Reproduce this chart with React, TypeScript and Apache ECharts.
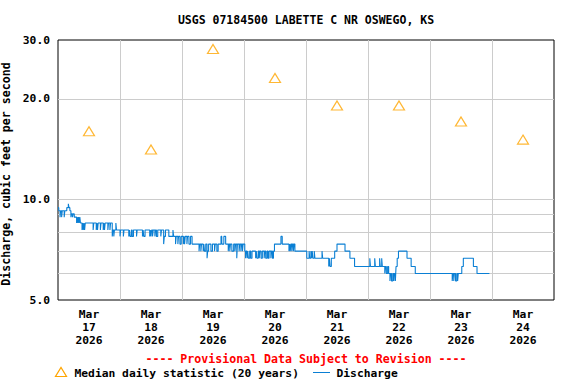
import React, { useEffect, useRef } from "react";
import * as echarts from "echarts";

const titleText = "USGS 07184500 LABETTE C NR OSWEGO, KS";
const yAxisTitle = "Discharge, cubic feet per second";
const provisionalText = "---- Provisional Data Subject to Revision ----";
const medianLegend = "Median daily statistic (20 years)";
const dischargeLegend = "Discharge";

// x labels at noon of each day (hours since Mar 17 00:00)
const dayLabels = [
  "Mar\n17\n2026",
  "Mar\n18\n2026",
  "Mar\n19\n2026",
  "Mar\n20\n2026",
  "Mar\n21\n2026",
  "Mar\n22\n2026",
  "Mar\n23\n2026",
  "Mar\n24\n2026",
];
const yLabelValues = [5, 10, 20, 30];
const yGridValues = [6, 7, 8, 9, 10, 20];

// median daily statistic, one per day at noon
const medianHours = [12, 36, 60, 84, 108, 132, 156, 180];
const medianValues = [16.0, 14.1, 28.2, 23.1, 19.1, 19.1, 17.1, 15.1];

// discharge change points: [hours since Mar 17 00:00, cfs]
const discharge: [number, number][] = [
  [0, 9.45], [0.3, 9.25],
  [0.8, 8.85], [1.0, 9.25], [1.4, 8.85], [1.65, 9.25],
  [2.4, 8.85], [2.65, 9.25], [3.4, 9.45],
  [4.0, 9.7], [4.25, 9.45], [4.6, 9.25],
  [5.0, 8.85], [5.25, 9.05], [5.6, 8.85], [5.85, 9.05], [6.3, 8.85],
  [7.2, 8.5], [7.45, 8.85], [7.7, 8.5], [7.95, 8.85], [8.2, 8.5], [8.45, 8.85], [8.7, 8.5],
  [9.3, 8.1], [9.55, 8.5], [9.8, 8.1], [10.05, 8.5], [10.3, 8.1], [10.55, 8.5],
  [13.6, 8.1], [13.85, 8.5],
  [14.8, 8.1], [15.05, 8.5], [15.3, 8.1], [15.55, 8.5],
  [16.4, 8.1], [16.65, 8.5],
  [17.5, 8.1], [17.75, 8.5], [18.0, 8.1], [18.25, 8.5],
  [19.3, 8.1], [19.55, 8.5],
  [20.1, 8.1], [20.35, 8.5],
  [21.0, 7.75], [21.25, 8.1], [21.6, 7.75], [21.85, 8.1],
  [22.4, 8.5], [22.65, 8.1],
  [24.0, 7.75], [24.25, 8.1],
  [25.3, 7.75], [25.55, 8.1],
  [27.4, 7.75], [27.65, 8.1], [27.9, 7.75], [28.4, 8.1], [28.7, 7.75], [29.2, 8.1],
  [30.4, 7.75], [30.65, 8.1],
  [32.7, 7.75], [32.95, 8.1], [33.2, 7.75], [33.7, 8.1],
  [35.5, 7.75], [35.75, 8.1], [36.0, 7.75], [36.25, 8.1], [36.6, 7.75], [36.85, 8.1],
  [37.5, 7.75], [37.75, 8.1], [38.1, 7.75], [38.6, 8.1],
  [39.8, 7.75], [40.05, 8.1],
  [40.9, 7.35], [41.15, 7.75], [41.6, 8.1],
  [42.9, 7.75],
  [44.5, 8.1], [44.75, 7.75],
  [45.5, 7.35], [45.75, 7.75],
  [46.4, 7.35], [46.65, 7.75],
  [47.2, 7.35], [47.7, 7.75],
  [48.5, 7.35], [48.75, 7.75], [49.0, 7.35], [49.25, 7.75],
  [49.9, 7.35], [50.15, 7.75],
  [50.7, 7.35], [51.3, 7.75],
  [51.9, 7.35],
  [54.6, 7.0], [54.85, 7.35],
  [55.3, 7.0], [55.55, 7.35],
  [56.2, 7.0], [56.45, 7.35], [56.7, 7.0], [57.2, 7.35],
  [57.7, 6.67], [57.95, 7.0], [58.3, 7.35],
  [59.2, 7.0], [59.8, 7.35],
  [60.6, 7.0], [60.85, 7.35],
  [61.5, 7.0], [62.0, 7.35],
  [63.1, 7.75], [63.4, 7.35],
  [64.2, 7.75], [64.9, 7.35],
  [65.9, 7.0], [66.15, 7.35], [66.5, 7.0], [66.75, 7.35], [67.3, 7.0], [68.0, 7.35],
  [68.5, 7.0], [68.75, 7.35],
  [69.2, 6.67], [69.45, 7.35],
  [70.1, 7.0], [70.35, 7.35],
  [70.8, 7.0], [71.05, 7.35], [71.4, 7.0], [71.65, 7.35],
  [72.3, 7.0],
  [72.6, 6.67], [72.85, 7.0], [73.2, 6.67], [73.45, 7.0], [73.7, 6.67], [74.2, 7.0], [74.6, 6.67], [75.1, 7.0],
  [76.5, 6.67], [76.75, 7.0], [77.0, 6.67], [77.5, 7.0], [77.9, 6.67], [78.15, 7.0], [78.6, 6.67], [79.1, 7.0],
  [79.8, 6.67], [80.05, 7.0], [80.4, 6.67], [80.9, 7.0], [81.3, 6.67], [81.7, 7.0],
  [82.4, 6.67], [82.65, 7.0], [83.0, 6.67], [83.4, 7.0],
  [83.8, 7.35],
  [86.3, 7.75], [86.8, 7.35],
  [89.4, 7.0], [89.65, 7.35], [89.9, 7.0], [90.15, 7.35], [90.5, 7.0], [90.75, 7.35], [91.1, 7.0], [91.35, 7.35],
  [91.7, 7.0],
  [96.3, 6.67],
  [97.2, 7.0], [97.45, 6.67],
  [97.9, 7.0], [98.15, 6.67], [98.4, 7.0], [98.65, 6.67],
  [99.2, 7.0], [99.45, 6.67],
  [102.2, 7.0], [102.45, 6.67],
  [104.8, 6.3], [105.05, 6.67], [105.3, 6.3], [105.8, 6.67],
  [107.1, 7.0],
  [108.0, 7.35],
  [111.1, 7.0],
  [113.0, 6.67],
  [114.8, 6.3],
  [120.7, 6.67], [120.95, 6.3],
  [122.6, 6.67], [122.85, 6.3],
  [124.5, 6.67], [124.75, 6.3],
  [125.3, 6.67], [125.55, 6.3],
  [126.5, 6.0], [126.75, 6.3], [127.1, 6.0], [127.6, 6.3],
  [128.0, 6.0], [128.5, 5.7], [128.75, 6.0], [129.1, 5.7], [129.6, 6.0], [130.0, 5.7], [130.25, 6.0], [130.6, 5.7],
  [130.85, 6.3],
  [131.3, 6.67], [131.8, 7.0],
  [135.1, 6.67],
  [136.7, 6.3],
  [138.3, 6.0],
  [152.6, 5.7], [152.85, 6.0], [153.2, 5.7], [153.45, 6.0], [153.9, 5.7], [154.4, 6.0], [154.7, 5.7], [154.95, 6.0],
  [156.3, 6.3], [156.9, 6.67],
  [160.8, 6.3],
  [162.2, 6.0],
  [167.0, 6.0],
];

const FONT = "DejaVu Sans Mono";
const FS = 11.3;
const BLUE = "#0a7fd4";
const ORANGE = "#ffa500";

export default function App() {
  const ref = useRef<HTMLDivElement>(null);

  useEffect(() => {
    if (!ref.current) return;
    const chart = echarts.init(ref.current, null, { renderer: "svg" });
    const gridColor = "#cccccc";
    const option: any = {
      animation: false,
      backgroundColor: "#ffffff",
      grid: {
        left: 58,
        right: 22,
        top: 40,
        bottom: 84,
        show: true,
        borderColor: "#000000",
        borderWidth: 1,
        backgroundColor: "transparent",
        containLabel: false,
        outerBoundsMode: "none",
      },
      xAxis: [
        {
          type: "value",
          min: 0,
          max: 192,
          interval: 24,
          position: "bottom",
          axisLine: { show: false },
          axisTick: { show: false },
          axisLabel: { show: false },
          splitLine: {
            show: true,
            showMinLine: false,
            showMaxLine: false,
            lineStyle: { color: gridColor, width: 1 },
          },
        },
        {
          type: "value",
          min: 0,
          max: 192,
          interval: 12,
          position: "bottom",
          axisLine: { show: false },
          axisTick: { show: false },
          splitLine: { show: false },
          axisLabel: {
            show: true,
            margin: 8,
            fontFamily: FONT,
            fontWeight: "bold",
            fontSize: FS,
            color: "#000",
            lineHeight: 13,
            formatter: (v: number) => {
              const k = (v - 12) / 24;
              if (Number.isInteger(k) && k >= 0 && k < dayLabels.length) return dayLabels[k];
              return "";
            },
          },
        },
      ],
      yAxis: {
        type: "log",
        logBase: 10,
        min: 5,
        max: 30,
        name: yAxisTitle,
        nameLocation: "middle",
        nameGap: 41,
        nameTextStyle: {
          fontFamily: FONT,
          fontWeight: "bold",
          fontSize: 11.6,
          color: "#000",
          padding: [0, 8, 0, 0],
        },
        axisLine: { show: false },
        axisTick: { show: false, customValues: yGridValues },
        axisLabel: {
          show: true,
          customValues: yLabelValues,
          margin: 8,
          fontFamily: FONT,
          fontWeight: "bold",
          fontSize: FS,
          color: "#000",
          formatter: (v: number) => Number(v).toFixed(1),
        },
        splitLine: {
          show: true,
          lineStyle: { color: gridColor, width: 1 },
        },
      },
      series: [
        {
          name: dischargeLegend,
          type: "line",
          xAxisIndex: 0,
          yAxisIndex: 0,
          step: "end",
          showSymbol: false,
          symbol: "none",
          lineStyle: { color: BLUE, width: 1.1 },
          data: discharge,
          z: 3,
        },
        {
          name: medianLegend,
          type: "scatter",
          xAxisIndex: 0,
          yAxisIndex: 0,
          symbol: "triangle",
          symbolSize: [11, 9],
          itemStyle: { color: "#ffffff", borderColor: ORANGE, borderWidth: 1.2 },
          data: medianHours.map((h, i) => [h, medianValues[i]]),
          z: 4,
        },
      ],
      graphic: [
        {
          type: "text",
          x: 306,
          y: 20,
          style: {
            text: titleText,
            align: "center",
            verticalAlign: "middle",
            fontFamily: FONT,
            fontWeight: "bold",
            fontSize: 11.5,
            fill: "#000",
          },
        },
        {
          type: "text",
          x: 306,
          y: 359,
          style: {
            text: provisionalText,
            align: "center",
            verticalAlign: "middle",
            fontFamily: FONT,
            fontWeight: "bold",
            fontSize: 11.6,
            fill: "#ff0000",
          },
        },
        {
          type: "polygon",
          shape: { points: [[55.5, 376.5], [66.5, 376.5], [61, 367.5]] },
          style: { fill: "#ffffff", stroke: ORANGE, lineWidth: 1.2 },
        },
        {
          type: "text",
          x: 74.5,
          y: 373,
          style: {
            text: medianLegend,
            align: "left",
            verticalAlign: "middle",
            fontFamily: FONT,
            fontWeight: "bold",
            fontSize: FS,
            fill: "#000",
          },
        },
        {
          type: "line",
          shape: { x1: 313, y1: 372.5, x2: 330, y2: 372.5 },
          style: { stroke: BLUE, lineWidth: 1 },
        },
        {
          type: "text",
          x: 336.5,
          y: 373,
          style: {
            text: dischargeLegend,
            align: "left",
            verticalAlign: "middle",
            fontFamily: FONT,
            fontWeight: "bold",
            fontSize: FS,
            fill: "#000",
          },
        },
      ],
    };
    chart.setOption(option);
    return () => chart.dispose();
  }, []);

  return (
    <div
      ref={ref}
      style={{ position: "fixed", left: 0, top: 0, width: 576, height: 384, background: "#fff" }}
    />
  );
}
